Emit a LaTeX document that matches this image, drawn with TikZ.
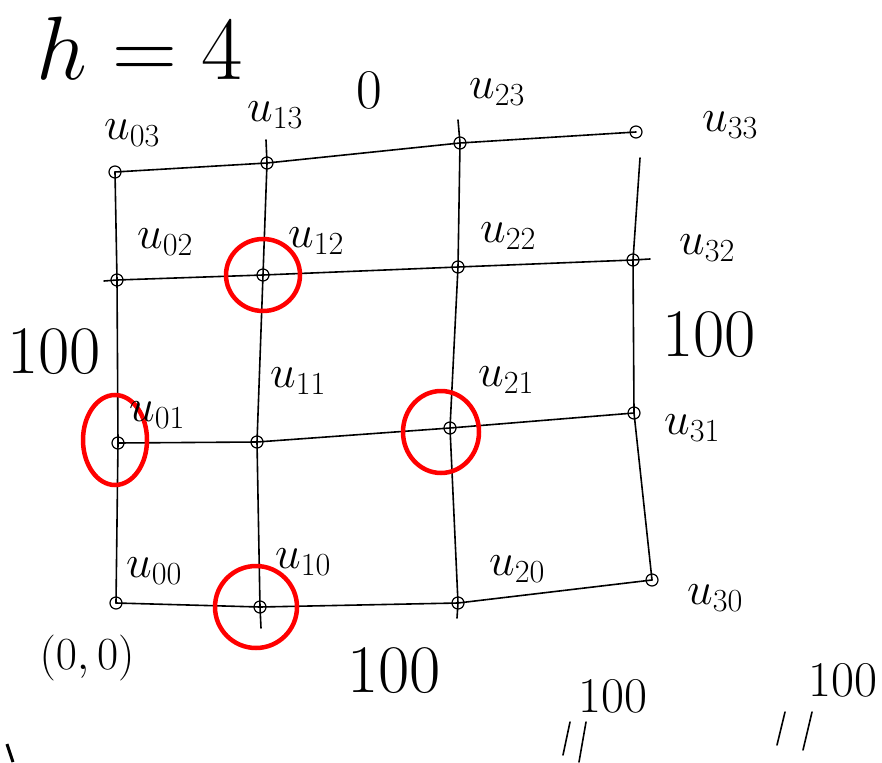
\RequirePackage{fix-cm}
\documentclass[tikz,border=0pt]{standalone}
\begin{document}
\begin{tikzpicture}[x=1pt,y=-1pt,
  pt/.style={circle,draw,line width=1.2pt,minimum size=12pt,inner sep=0pt},
  gridline/.style={line width=1.6pt,line join=round,line cap=round},
  ring/.style={draw=red,line width=4.5pt},
  lab/.style={font=\fontsize{46}{50}\selectfont,inner sep=0pt},
  big/.style={font=\fontsize{68}{76}\selectfont,inner sep=0pt},
  small/.style={font=\fontsize{50}{54}\selectfont,inner sep=0pt}]
\useasboundingbox (0,0) rectangle (882,762);
% grid points
\node[pt] (p03) at (115,172) {};
\node[pt] (p13) at (267,163) {};
\node[pt] (p23) at (460,143) {};
\node[pt] (p33) at (636,132) {};
\node[pt] (p02) at (117,280) {};
\node[pt] (p12) at (263,275) {};
\node[pt] (p22) at (458,267) {};
\node[pt] (p32) at (633,260) {};
\node[pt] (p01) at (118,443) {};
\node[pt] (p11) at (257,442) {};
\node[pt] (p21) at (450,428) {};
\node[pt] (p31) at (634,413) {};
\node[pt] (p00) at (116,603) {};
\node[pt] (p10) at (260,607) {};
\node[pt] (p20) at (458,603) {};
\node[pt] (p30) at (652,580) {};
% free ends
\coordinate (t1) at (266,140);
\coordinate (b1) at (261,628);
\coordinate (t2) at (458,120);
\coordinate (b2) at (457,618);
\coordinate (t3) at (640,158);
\coordinate (l2) at (104,281);
\coordinate (r2) at (650,259);
% horizontal lines
\draw[gridline] (p03.center) -- (p13.center) -- (p23.center) -- (p33.center);
\draw[gridline] (l2) -- (p02.center) -- (p12.center) -- (p22.center) -- (p32.center) -- (r2);
\draw[gridline] (p01.center) -- (p11.center) -- (p21.center) -- (p31.center);
\draw[gridline] (p00.center) -- (p10.center) -- (p20.center) -- (p30.center);
% vertical lines
\draw[gridline] (p03.center) -- (p02.center) -- (p01.center) -- (p00.center);
\draw[gridline] (t1) -- (p13.center) -- (p12.center) -- (p11.center) -- (p10.center) -- (b1);
\draw[gridline] (t2) -- (p23.center) -- (p22.center) -- (p21.center) -- (p20.center) -- (b2);
\draw[gridline] (t3) -- (p32.center) -- (p31.center) -- (p30.center);
% red rings
\draw[ring] (p12) ellipse [x radius=37, y radius=36];
\draw[ring] (p01)++(-3,-3) ellipse [x radius=32, y radius=45];
\draw[ring] (p21)++(-9,4) ellipse [x radius=38, y radius=41];
\draw[ring] (p10)++(-4,0) ellipse [x radius=41, y radius=41];
% labels
\node[inner sep=0pt,font=\fontsize{90}{96}\selectfont] (h) at (140,48) {$h=4$};
\node[inner sep=0pt,font=\fontsize{56}{60}\selectfont] (zero) at (369,90) {$0$};
\node[lab] (l03) at (132,133) {$u_{03}$};
\node[lab] (l13) at (275,115) {$u_{13}$};
\node[lab] (l23) at (497,92) {$u_{23}$};
\node[lab] (l33) at (730,125) {$u_{33}$};
\node[lab] (l02) at (165,242) {$u_{02}$};
\node[lab] (l12) at (316,241) {$u_{12}$};
\node[lab] (l22) at (508,236) {$u_{22}$};
\node[lab] (l32) at (707,248) {$u_{32}$};
\node[lab] (l11) at (298,381) {$u_{11}$};
\node[lab] (l01) at (157,415) {$u_{01}$};
\node[lab] (l21) at (506,380) {$u_{21}$};
\node[lab] (l31) at (692,428) {$u_{31}$};
\node[lab] (l00) at (154,571) {$u_{00}$};
\node[lab] (l10) at (303,562) {$u_{10}$};
\node[lab] (l20) at (517,569) {$u_{20}$};
\node[lab] (l30) at (715,598) {$u_{30}$};
\node[lab] (origin) at (87,658) {$(0,0)$};
\node[big] (hl) at (54,352) {100};
\node[big] (hr) at (709,335) {100};
\node[big] (hb) at (394,671) {100};
\node[small] (s1) at (613,696) {100};
\node[small] (s2) at (843,680) {100};
% marks under small 100s
\coordinate (e1a) at (570,722); \coordinate (e1b) at (563,755);
\coordinate (e1c) at (586,722); \coordinate (e1d) at (579,762);
\draw[gridline] (e1a) -- (e1b); \draw[gridline] (e1c) -- (e1d);
\coordinate (e2a) at (785,712); \coordinate (e2b) at (777,745);
\coordinate (e2c) at (812,712); \coordinate (e2d) at (803,750);
\draw[gridline] (e2a) -- (e2b); \draw[gridline] (e2c) -- (e2d);
% stray stroke
\coordinate (m1) at (7,744); \coordinate (m2) at (13,762);
\draw[line width=3pt] (m1) -- (m2);
\end{tikzpicture}
\end{document}
